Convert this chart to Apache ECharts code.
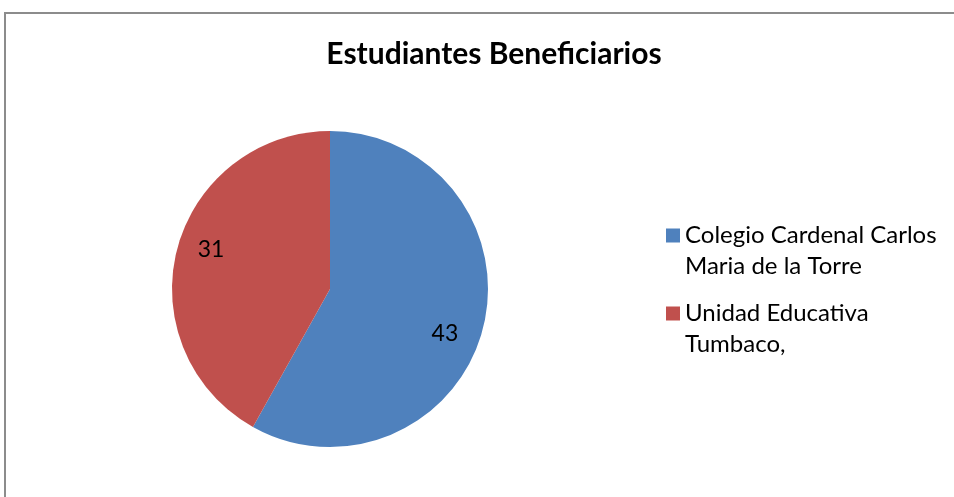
<!DOCTYPE html>
<html>
<head>
<meta charset="utf-8">
<script src="https://cdn.jsdelivr.net/npm/echarts@6/dist/echarts.min.js"></script>
<style>
  html, body { margin: 0; padding: 0; background: #fff; }
  #frame { position: absolute; left: 4px; top: 12px; width: 1000px; height: 600px;
           border-left: 2px solid #8c8c8c; border-top: 2px solid #8c8c8c; }
  #chart { position: absolute; left: 0; top: 0; width: 954px; height: 497px; }
</style>
</head>
<body>
<div id="frame"></div>
<div id="chart"></div>
<script>
const titleText = 'Estudiantes Beneficiarios'
const schools = ['Colegio Cardenal Carlos Maria de la Torre', 'Unidad Educativa Tumbaco,']
const legendLines = {
  'Colegio Cardenal Carlos Maria de la Torre': ['Colegio Cardenal Carlos', 'Maria de la Torre'],
  'Unidad Educativa Tumbaco,': ['Unidad Educativa', 'Tumbaco,']
}
const students = [43, 31]
const colors = ['#4F81BD', '#C0504D']

const font = 'Lato, "Open Sans", sans-serif'
const chart = echarts.init(document.getElementById('chart'))

const pieData = schools.map((name, i) => ({
  name: name,
  value: students[i],
  itemStyle: { color: colors[i] }
}))

// Excel puts the value labels a bit off the slice bisector
const labelNudge = [[-8, 13], [4, -7]]

chart.setOption({
  animation: false,
  title: {
    text: titleText,
    left: 489,
    top: 34,
    textAlign: 'center',
    textStyle: { fontFamily: font, fontSize: 30, fontWeight: 'bold', color: '#000' }
  },
  legend: {
    orient: 'vertical',
    left: 661,
    top: 184,
    icon: 'rect',
    itemWidth: 14,
    itemHeight: 14,
    itemGap: -15,
    data: schools,
    // empty first line so the marker sits beside the first text line
    formatter: (name) => '\n' + legendLines[name].join('\n'),
    textStyle: { fontFamily: font, fontSize: 24, lineHeight: 31, color: '#000' }
  },
  series: [
    {
      type: 'pie',
      center: [330, 289],
      radius: 158,
      startAngle: 90,
      clockwise: true,
      label: { show: false },
      labelLine: { show: false },
      emphasis: { disabled: true },
      data: pieData
    },
    {
      // transparent copy that only carries the value labels further out
      type: 'pie',
      center: [330, 289],
      radius: 248,
      startAngle: 90,
      clockwise: true,
      silent: true,
      z: 3,
      itemStyle: { color: 'rgba(0,0,0,0)' },
      label: {
        show: true,
        position: 'inside',
        formatter: '{c}',
        fontFamily: font,
        fontSize: 23,
        color: '#000'
      },
      labelLine: { show: false },
      emphasis: { disabled: true },
      data: students.map((v, i) => ({ name: schools[i], value: v, label: { offset: labelNudge[i] } }))
    }
  ]
})
</script>
</body>
</html>
